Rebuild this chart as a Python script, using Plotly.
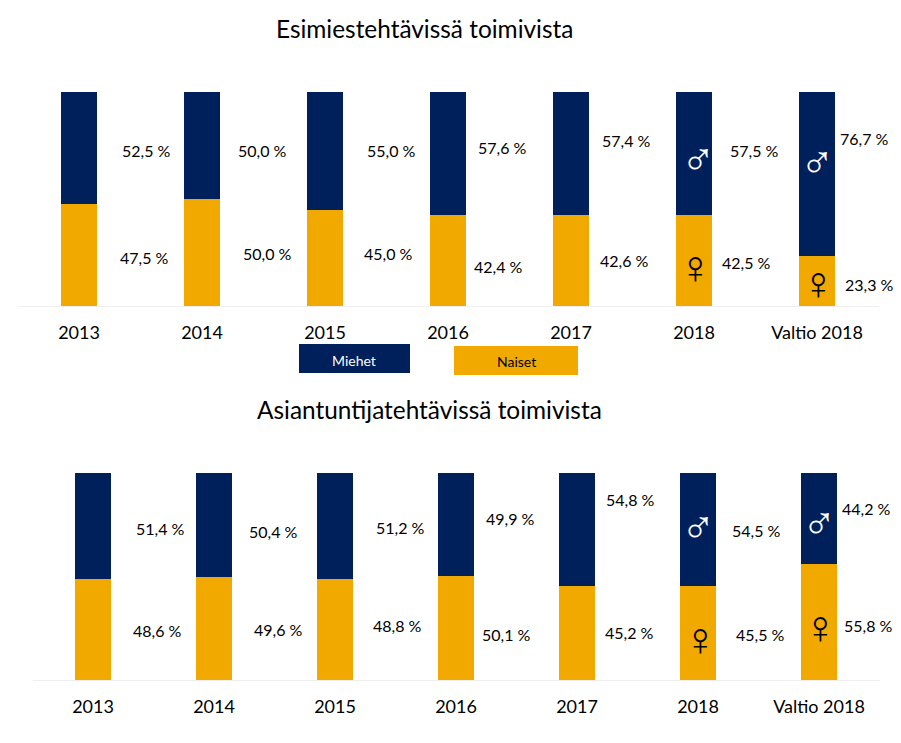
import plotly.graph_objects as go

W, H = 901, 743
categories = ["2013", "2014", "2015", "2016", "2017", "2018", "Valtio 2018"]
top_men = [52.5, 50.0, 55.0, 57.6, 57.4, 57.5, 76.7]
top_women = [47.5, 50.0, 45.0, 42.4, 42.6, 42.5, 23.3]
bottom_men = [51.4, 50.4, 51.2, 49.9, 54.8, 54.5, 44.2]
bottom_women = [48.6, 49.6, 48.8, 50.1, 45.2, 45.5, 55.8]
top_men_text = ["52,5 %", "50,0 %", "55,0 %", "57,6 %", "57,4 %", "57,5 %", "76,7 %"]
top_women_text = ["47,5 %", "50,0 %", "45,0 %", "42,4 %", "42,6 %", "42,5 %", "23,3 %"]
bottom_men_text = ["51,4 %", "50,4 %", "51,2 %", "49,9 %", "54,8 %", "54,5 %", "44,2 %"]
bottom_women_text = ["48,6 %", "49,6 %", "48,8 %", "50,1 %", "45,2 %", "45,5 %", "55,8 %"]
series_names = ["Miehet", "Naiset"]
titles = ["Esimiestehtävissä toimivista", "Asiantuntijatehtävissä toimivista"]

NAVY = "#00205C"
GOLD = "#F1A900"
FONT = "Lato"

# pixel placement of the free-floating value labels
top_men_pos = [(146, 151), (262, 151), (391, 151), (502, 147), (626, 141), (754, 151), (864, 138)]
top_women_pos = [(144, 257), (267, 254), (388, 254), (498, 267), (624, 260), (746, 262), (869, 284)]
bottom_men_pos = [(160, 528), (273, 531), (400, 527), (510, 518), (630, 500), (756, 530), (866, 508)]
bottom_women_pos = [(157, 630), (278, 629), (397, 625), (506, 634), (629, 632), (760, 634), (868, 625)]


def px(x):
    return x / W


def py(y):
    return 1 - y / H


def label(x, y, text, size=16, color="#000000", family=FONT):
    return dict(x=px(x), y=py(y), xref="paper", yref="paper", text=text, showarrow=False,
                xanchor="center", yanchor="middle",
                font=dict(family=family, size=size, color=color))


fig = go.Figure()
for women, men, ax in [(top_women, top_men, ""), (bottom_women, bottom_men, "2")]:
    fig.add_trace(go.Bar(x=categories, y=women, name=series_names[1], marker_color=GOLD,
                         marker_line_width=0, xaxis="x" + ax, yaxis="y" + ax, showlegend=False))
    fig.add_trace(go.Bar(x=categories, y=men, name=series_names[0], marker_color=NAVY,
                         marker_line_width=0, xaxis="x" + ax, yaxis="y" + ax, showlegend=False))

annotations = [label(424, 29, titles[0], 24.4), label(429, 409, titles[1], 24.4)]
for texts, pos in [(top_men_text, top_men_pos), (top_women_text, top_women_pos),
                   (bottom_men_text, bottom_men_pos), (bottom_women_text, bottom_women_pos)]:
    annotations += [label(x, y, t) for t, (x, y) in zip(texts, pos)]

# gender symbols
sym = "Liberation Sans"
annotations += [
    label(698, 159, "♂", 46, "#FFFFFF", sym), label(817, 162, "♂", 46, "#FFFFFF", sym),
    label(695, 267, "♀", 46, "#000000", sym), label(818, 283, "♀", 46, "#000000", sym),
    label(698, 527, "♂", 46, "#FFFFFF", sym), label(819, 523, "♂", 46, "#FFFFFF", sym),
    label(700, 639, "♀", 46, "#000000", sym), label(820, 627, "♀", 46, "#000000", sym),
]
# legend boxes
annotations += [label(354, 360, series_names[0], 14, "#FFFFFF"), label(516, 362, series_names[1], 14, "#000000")]
shapes = [
    dict(type="rect", xref="paper", yref="paper", x0=px(299), x1=px(410), y0=py(373), y1=py(344),
         fillcolor=NAVY, line_width=0),
    dict(type="rect", xref="paper", yref="paper", x0=px(454), x1=px(578), y0=py(375), y1=py(346),
         fillcolor=GOLD, line_width=0),
]

axis_x = dict(showgrid=False, zeroline=False, showline=True, linecolor="#EFEFEF", linewidth=1,
              ticks="outside", ticklen=10, tickcolor="rgba(0,0,0,0)", type="category",
              tickfont=dict(family=FONT, size=18, color="#000000"), tickangle=0)
axis_y = dict(visible=False, range=[0, 100], showgrid=False, zeroline=False)

fig.update_layout(
    width=W, height=H, margin=dict(l=0, r=0, t=0, b=0), paper_bgcolor="white", plot_bgcolor="white",
    barmode="stack", bargap=0.7, showlegend=False, annotations=annotations, shapes=shapes,
    xaxis=dict(axis_x, domain=[px(17.5), px(878.5)], anchor="y"),
    yaxis=dict(axis_y, domain=[py(306), py(92)], anchor="x"),
    xaxis2=dict(axis_x, domain=[px(32.5), px(879.5)], anchor="y2"),
    yaxis2=dict(axis_y, domain=[py(680), py(473)], anchor="x2"),
)
fig.write_html("out.html", config={"displayModeBar": False},
               post_script="document.body.style.margin='0';document.documentElement.style.overflow='hidden';")
